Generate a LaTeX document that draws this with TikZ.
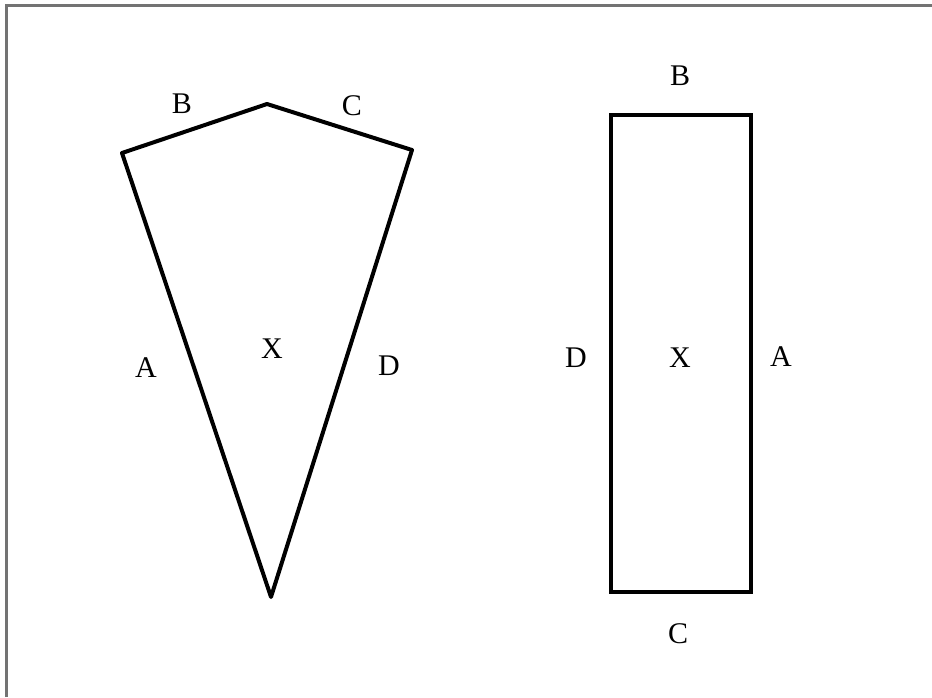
\documentclass[tikz,border=0pt]{standalone}
\usepackage{fontspec}
\setmainfont{Liberation Serif}
\begin{document}
\begin{tikzpicture}[x=1pt,y=-1pt,
  lbl/.style={font=\fontsize{30}{32}\selectfont, inner sep=0pt, anchor=center},
  edge/.style={line width=4pt, line join=round, line cap=round},
  frame/.style={draw=black!55, line width=2.2pt}]
\useasboundingbox (0,0) rectangle (932,697);
\draw[frame] (6.5,697) -- (6.5,5.5) -- (932,5.5);
% kite
\coordinate (kl) at (122,153);
\coordinate (kt) at (267,104);
\coordinate (kr) at (412,150);
\coordinate (kb) at (271,597);
\draw[edge] (kl) -- (kt) -- (kr) -- (kb) -- cycle;
\node[lbl] (kB) at (182,104) {B};
\node[lbl] (kC) at (352,106) {C};
\node[lbl] (kA) at (146,368) {A};
\node[lbl] (kX) at (272,349) {X};
\node[lbl] (kD) at (389,366) {D};
% rectangle
\coordinate (r1) at (611,115);
\coordinate (r2) at (751,592);
\draw[edge, line width=4.6pt, line cap=butt, line join=miter] (r1) rectangle (r2);
\node[lbl] (rB) at (680,76) {B};
\node[lbl] (rD) at (576,358) {D};
\node[lbl] (rX) at (680,358) {X};
\node[lbl] (rA) at (781,357) {A};
\node[lbl] (rC) at (678,634) {C};
\end{tikzpicture}
\end{document}
